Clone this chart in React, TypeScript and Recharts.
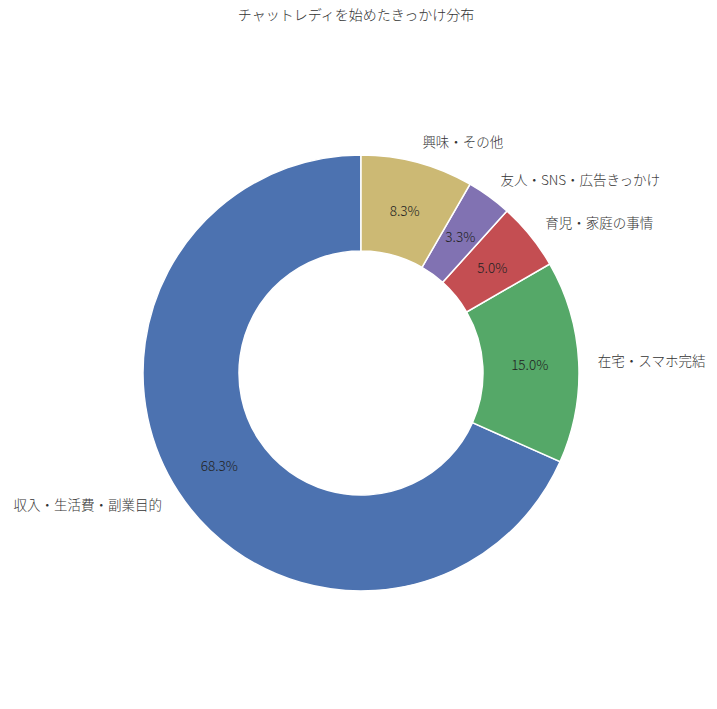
import React from 'react';
import { Cell, Pie, PieChart } from 'recharts';

const categories = [
  '収入・生活費・副業目的',
  '在宅・スマホ完結',
  '育児・家庭の事情',
  '友人・SNS・広告きっかけ',
  '興味・その他',
];
const counts = [41, 9, 3, 2, 5];
const colors = ['#4C72B0', '#55A868', '#C44E52', '#8172B2', '#CCB974'];
const title = 'チャットレディを始めたきっかけ分布';

const RAD = Math.PI / 180;
const font = '"Noto Sans CJK JP Light", "Noto Sans CJK JP", "Noto Sans", sans-serif';

function renderLabel(props: any) {
  const { cx, cy, midAngle, outerRadius, percent, name } = props;
  const cos = Math.cos(-midAngle * RAD);
  const sin = Math.sin(-midAngle * RAD);
  const lx = cx + outerRadius * 1.088 * cos;
  const ly = cy + outerRadius * 1.1 * sin;
  const px = cx + outerRadius * 0.775 * cos;
  const py = cy + outerRadius * 0.775 * sin;
  return (
    <g>
      <text
        x={lx}
        y={ly}
        textAnchor={cos >= 0 ? 'start' : 'end'}
        dominantBaseline="central"
        fill="#333"
        fontSize={13.5}
        fontWeight={300}
        fontFamily={font}
      >
        {name}
      </text>
      <text
        x={px}
        y={py}
        textAnchor="middle"
        dominantBaseline="central"
        fill="#222"
        fontSize={13.5}
        fontWeight={300}
        fontFamily={font}
      >
        {(percent * 100).toFixed(1)}%
      </text>
    </g>
  );
}

export default function App() {
  const data = categories.map((name, i) => ({ name, value: counts[i] }));

  return (
    <div style={{ marginTop: -4, marginLeft: -4 }}>
      <PieChart width={717} height={709}>
        <text
          x={352}
          y={10}
          textAnchor="middle"
          dominantBaseline="central"
          fill="#333"
          fontSize={14}
          fontWeight={300}
          fontFamily={font}
        >
          {title}
        </text>
        <Pie
          data={data}
          dataKey="value"
          nameKey="name"
          cx={352}
          cy={364}
          innerRadius={122}
          outerRadius={218}
          startAngle={90}
          endAngle={450}
          stroke="#fff"
          strokeWidth={1.5}
          labelLine={false}
          label={renderLabel}
          isAnimationActive={false}
        >
          {data.map((d, i) => (
            <Cell key={d.name} fill={colors[i]} />
          ))}
        </Pie>
      </PieChart>
    </div>
  );
}
